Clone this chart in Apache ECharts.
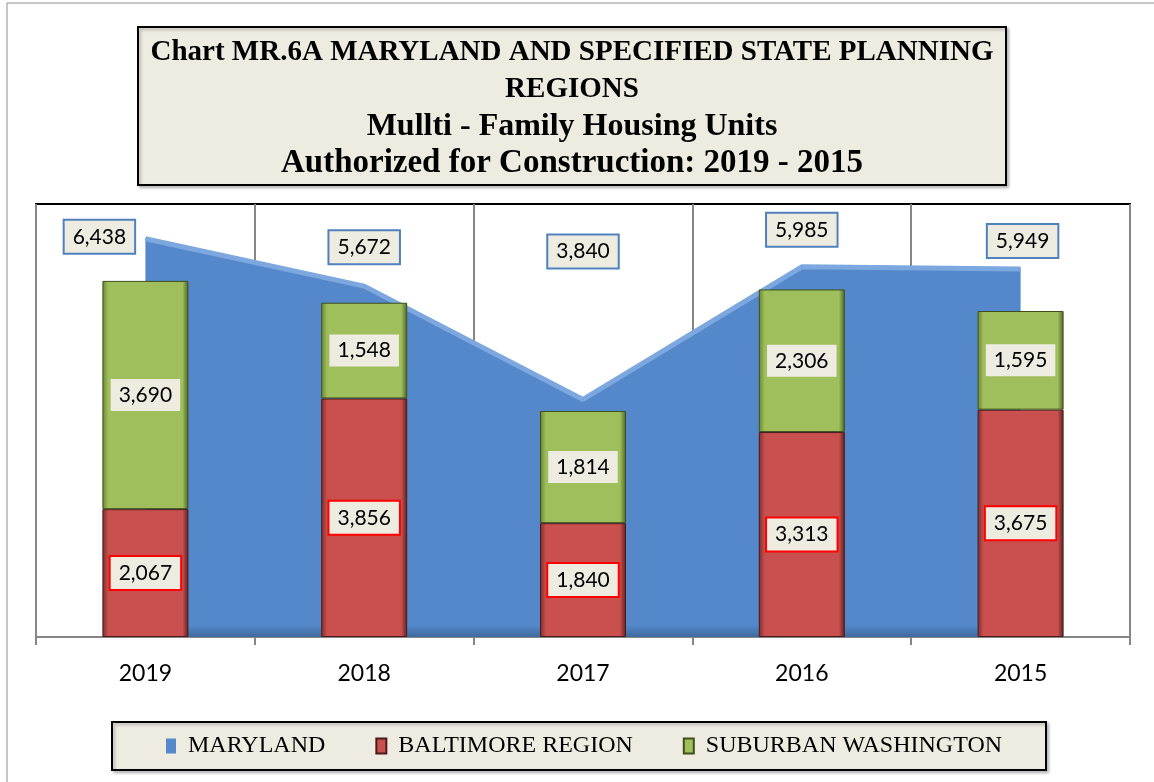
<!DOCTYPE html>
<html>
<head>
<meta charset="utf-8">
<script src="https://cdn.jsdelivr.net/npm/echarts@6/dist/echarts.min.js"></script>
<style>
  html, body { margin: 0; padding: 0; background: #fff; }
  #chart { width: 1154px; height: 782px; }
</style>
</head>
<body>
<div id="chart"></div>
<script>
const categories = ['2019', '2018', '2017', '2016', '2015'];
const maryland = [6438, 5672, 3840, 5985, 5949];
const baltimore = [2067, 3856, 1840, 3313, 3675];
const suburban = [3690, 1548, 1814, 2306, 1595];
const seriesNames = ['MARYLAND', 'BALTIMORE REGION', 'SUBURBAN WASHINGTON'];
const titleLines = [
  'Chart MR.6A MARYLAND AND SPECIFIED STATE PLANNING',
  'REGIONS',
  'Mullti - Family Housing Units',
  'Authorized for Construction: 2019 - 2015'
];

// label placement (style only), offsets of Maryland labels from their points
const mdLabelOffsets = [[-46, -2], [0, -39], [0, -148], [0, -37], [2, -28]];
const titleLineStyles = ['a', 'a', 'b', 'c'];

const fmt = v => Number(v).toLocaleString('en-US');
const beige = '#EEECE1';
const labelFont = 'Lato, "Open Sans", sans-serif';
const serifFont = '"Liberation Serif", serif';

function barGrad(edge, base, edge2) {
  return new echarts.graphic.LinearGradient(0, 0, 1, 0, [
    { offset: 0, color: edge },
    { offset: 0.07, color: base },
    { offset: 0.93, color: base },
    { offset: 1, color: edge2 }
  ]);
}

const chart = echarts.init(document.getElementById('chart'), null, { renderer: 'canvas' });

const titleRich = {
  a: { fontFamily: serifFont, fontWeight: 'bold', fontSize: 29, lineHeight: 37, color: '#000' },
  b: { fontFamily: serifFont, fontWeight: 'bold', fontSize: 32, lineHeight: 37, color: '#000' },
  c: { fontFamily: serifFont, fontWeight: 'bold', fontSize: 33, lineHeight: 37, color: '#000' }
};

const option = {
  animation: false,
  backgroundColor: '#fff',
  graphic: [
    { type: 'rect', z: -10, shape: { x: 7, y: 3, width: 1160, height: 800 },
      style: { fill: 'none', stroke: '#8C8C8C', lineWidth: 1 } },
    { type: 'rect', z: -5, shape: { x: 138, y: 27, width: 868, height: 158 },
      style: { fill: beige, stroke: '#000', lineWidth: 2, shadowColor: 'rgba(0,0,0,0.25)', shadowOffsetX: 2, shadowOffsetY: 2, shadowBlur: 3 } },
    { type: 'rect', z: -5, shape: { x: 112, y: 722, width: 934, height: 48 },
      style: { fill: beige, stroke: '#000', lineWidth: 2, shadowColor: 'rgba(0,0,0,0.25)', shadowOffsetX: 2, shadowOffsetY: 2, shadowBlur: 3 } }
  ],
  title: {
    text: titleLines.map((t, i) => '{' + titleLineStyles[i] + '|' + t + '}').join('\n'),
    left: 572,
    top: 34,
    padding: 0,
    textAlign: 'center',
    textStyle: {
      fontFamily: serifFont,
      fontWeight: 'bold',
      fontSize: 29,
      lineHeight: 37,
      color: '#000',
      rich: titleRich
    }
  },
  legend: {
    data: seriesNames,
    left: 166,
    top: 734,
    padding: 0,
    icon: 'rect',
    itemWidth: 10,
    itemHeight: 15,
    itemGap: 50,
    textStyle: {
      fontFamily: serifFont,
      fontSize: 24,
      color: '#000',
      padding: [0, 0, 0, 7]
    }
  },
  grid: {
    left: 36, right: 24, top: 204, bottom: 145,
    show: true, borderColor: '#000', borderWidth: 2, backgroundColor: '#fff',
    containLabel: false
  },
  xAxis: {
    type: 'category',
    data: categories,
    boundaryGap: true,
    axisLine: { show: true, lineStyle: { color: '#868686', width: 2 } },
    axisTick: { show: true, length: 8, lineStyle: { color: '#868686', width: 2 } },
    splitLine: { show: true, lineStyle: { color: '#868686', width: 2 } },
    axisLabel: { margin: 25, fontFamily: labelFont, fontSize: 23, color: '#000' }
  },
  yAxis: {
    type: 'value',
    min: 0, max: 7000, interval: 1000,
    show: false,
    splitLine: { show: false }
  },
  series: [
    {
      name: seriesNames[0],
      type: 'line',
      data: maryland,
      z: 1,
      symbol: 'circle',
      symbolSize: 1,
      itemStyle: { color: '#5588CA' },
      lineStyle: { color: '#7CA8DF', width: 5 },
      areaStyle: {
        color: new echarts.graphic.LinearGradient(0, 0, 0, 1, [
          { offset: 0, color: '#5588CA' },
          { offset: 0.97, color: '#5588CA' },
          { offset: 1, color: '#3F6A9E' }
        ]),
        opacity: 1
      },
      label: {
        show: true,
        position: 'inside',
        formatter: p => fmt(p.value),
        fontFamily: labelFont, fontSize: 21, color: '#000',
        backgroundColor: beige, borderColor: '#4F81BD', borderWidth: 2,
        padding: [6, 8, 5, 8]
      },
      labelLayout: function (params) {
        const o = mdLabelOffsets[params.dataIndex];
        return { dx: o[0], dy: o[1] };
      }
    },
    {
      name: seriesNames[1],
      type: 'bar',
      stack: 'regions',
      data: baltimore,
      barWidth: 86,
      z: 3,
      itemStyle: { color: barGrad('#7A2F2D', '#C9504E', '#5E2220'), borderColor: '#4A1A18', borderWidth: 1 },
      label: {
        show: true,
        position: 'inside',
        formatter: p => fmt(p.value),
        fontFamily: labelFont, fontSize: 21, color: '#000',
        backgroundColor: beige, borderColor: '#FF0000', borderWidth: 2,
        padding: [6, 8, 5, 8]
      }
    },
    {
      name: seriesNames[2],
      type: 'bar',
      stack: 'regions',
      data: suburban,
      barWidth: 86,
      z: 3,
      itemStyle: { color: barGrad('#6B8533', '#9FBF5C', '#4F6424'), borderColor: '#3E4F1C', borderWidth: 1 },
      label: {
        show: true,
        position: 'inside',
        formatter: p => fmt(p.value),
        fontFamily: labelFont, fontSize: 21, color: '#000',
        backgroundColor: beige,
        padding: [6, 8, 5, 8]
      }
    }
  ]
};

chart.setOption(option);
</script>
</body>
</html>
